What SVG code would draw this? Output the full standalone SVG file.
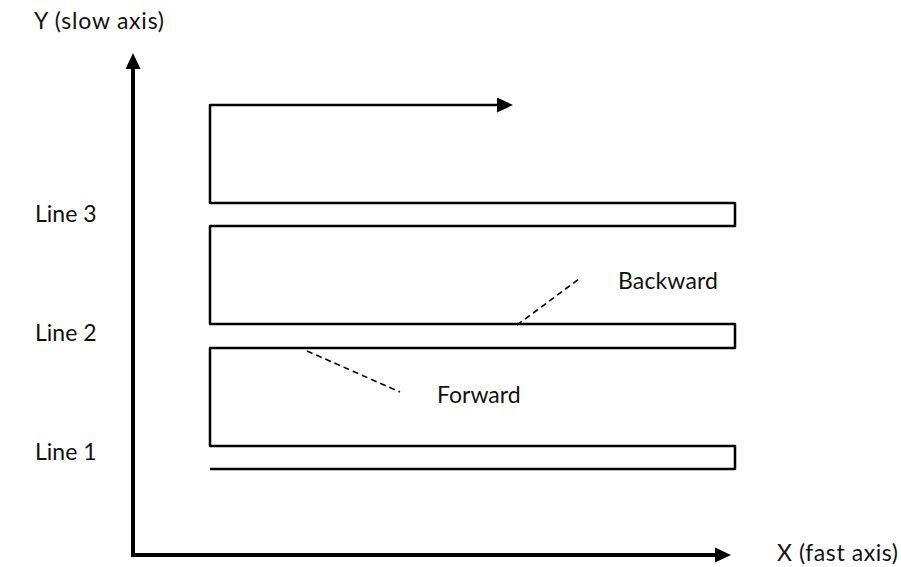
<svg xmlns="http://www.w3.org/2000/svg" width="901" height="567" viewBox="0 0 901 567">
<style>
.lbl{font-family:Lato,"Open Sans",sans-serif;font-size:23px;fill:#111}
.axis{stroke:#000;stroke-width:4;fill:none}
.path{stroke:#000;stroke-width:2.5;fill:none;stroke-linejoin:round}
.dash{stroke:#000;stroke-width:1.6;stroke-dasharray:6 4;fill:none}
</style>
<defs>
<marker id="ah" markerUnits="userSpaceOnUse" markerWidth="16" markerHeight="16" viewBox="0 0 16 16" refX="1" refY="8" orient="auto">
<polygon points="0,0.5 16,8 0,15.5" fill="#000"/>
</marker>
</defs>
<rect width="901" height="567" fill="#fff"/>
<g id="connectors">
<line id="y-axis" class="axis" x1="133" y1="557" x2="133" y2="68" marker-end="url(#ah)"/>
<line id="x-axis" class="axis" x1="131" y1="555" x2="716" y2="555" marker-end="url(#ah)"/>
<path id="scan-path" class="path" d="M210,469 H735 V446 H210 V348 H735 V324 H210 V226 H735 V203 H210 V105 H498" marker-end="url(#ah)"/>
<line id="backward-leader" class="dash" x1="517" y1="325" x2="579" y2="279"/>
<line id="forward-leader" class="dash" x1="307" y1="351" x2="400" y2="392"/>
</g>
<g id="label-y"><text class="lbl" x="34" y="29" textLength="130" lengthAdjust="spacing">Y (slow axis)</text></g>
<g id="label-x"><text class="lbl" x="777" y="561" textLength="121" lengthAdjust="spacing">X (fast axis)</text></g>
<g id="label-line3"><text class="lbl" x="35" y="222">Line 3</text></g>
<g id="label-line2"><text class="lbl" x="35" y="341">Line 2</text></g>
<g id="label-line1"><text class="lbl" x="35" y="460">Line 1</text></g>
<g id="label-backward"><text class="lbl" x="618" y="289" textLength="100" lengthAdjust="spacing">Backward</text></g>
<g id="label-forward"><text class="lbl" x="437" y="403">Forward</text></g>
</svg>
